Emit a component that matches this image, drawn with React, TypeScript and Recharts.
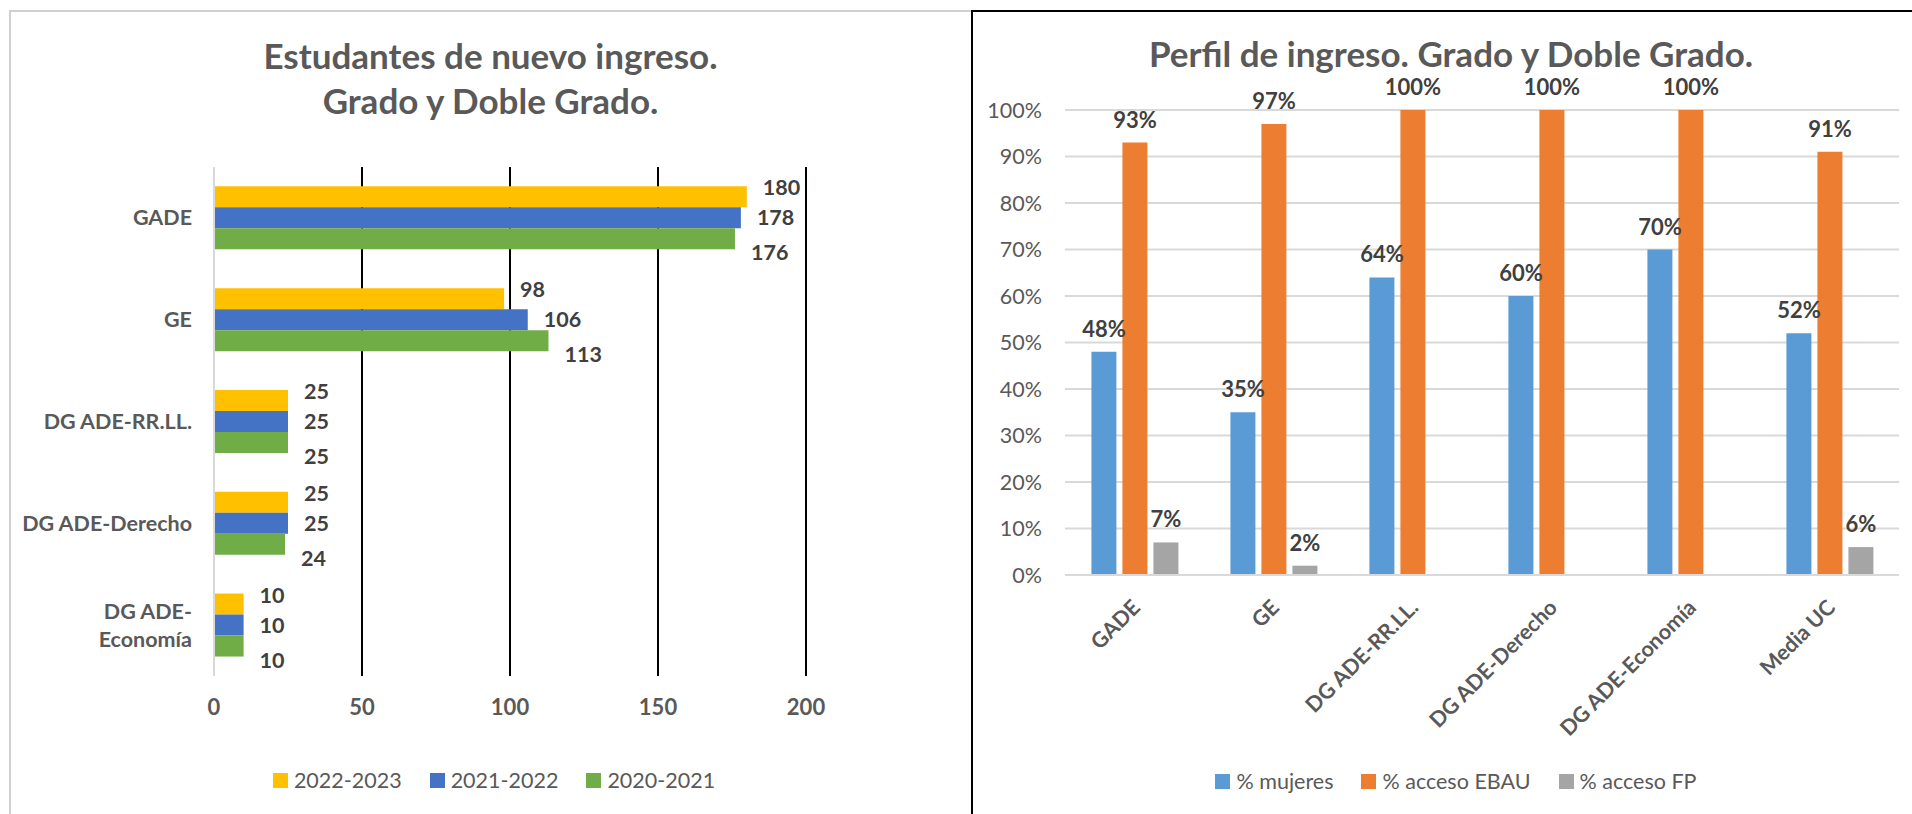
import React from 'react';
import { BarChart, Bar, XAxis, YAxis, CartesianGrid, LabelList } from 'recharts';

const FONT = 'Lato, "Open Sans", "DejaVu Sans", sans-serif';

// ---- Left chart data ----
const enrolCategories = ['GADE', 'GE', 'DG ADE-RR.LL.', 'DG ADE-Derecho', 'DG ADE-Economía'];
const enrol2022_2023 = [180, 98, 25, 25, 10];
const enrol2021_2022 = [178, 106, 25, 25, 10];
const enrol2020_2021 = [176, 113, 25, 24, 10];
const enrolSeriesNames = ['2022-2023', '2021-2022', '2020-2021'];
const enrolTicks = [0, 50, 100, 150, 200];
const enrolTitle = ['Estudantes de nuevo ingreso.', 'Grado y Doble Grado.'];

// ---- Right chart data ----
const profileCategories = ['GADE', 'GE', 'DG ADE-RR.LL.', 'DG ADE-Derecho', 'DG ADE-Economía', 'Media UC'];
const profileMujeres = [0.48, 0.35, 0.64, 0.6, 0.7, 0.52];
const profileEbau = [0.93, 0.97, 1, 1, 1, 0.91];
const profileFp = [0.07, 0.02, 0, 0, 0, 0.06];
const profileSeriesNames = ['% mujeres', '% acceso EBAU', '% acceso FP'];
const profileTicks = [0, 0.1, 0.2, 0.3, 0.4, 0.5, 0.6, 0.7, 0.8, 0.9, 1];
const profileTitle = 'Perfil de ingreso. Grado y Doble Grado.';

const enrolColors = ['#FFC000', '#4472C4', '#70AD47'];
const enrolLabelShift = [-9, 0, 14];
const profileColors = ['#5B9BD5', '#ED7D31', '#A5A5A5'];

const enrolData = enrolCategories.map((c, i) => ({
  category: c,
  a: enrol2022_2023[i],
  b: enrol2021_2022[i],
  c: enrol2020_2021[i],
}));

const profileData = profileCategories.map((c, i) => ({
  category: c,
  mujeres: profileMujeres[i],
  ebau: profileEbau[i],
  fp: profileFp[i],
}));

const pct = (v: any) => `${Math.round(Number(v) * 100)}%`;

const EnrolTick = (props: any) => {
  const { x, y, payload } = props;
  const v: string = String(payload.value);
  let lines = [v];
  if (v.length > 14) {
    const idx = v.indexOf('-');
    lines = [v.slice(0, idx + 1), v.slice(idx + 1)];
  }
  const lh = 28;
  const start = -((lines.length - 1) * lh) / 2;
  return (
    <text
      x={x}
      y={y}
      textAnchor="end"
      fill="#595959"
      fontSize={21.5}
      fontWeight={700}
      fontFamily={FONT}
    >
      {lines.map((l, i) => (
        <tspan key={i} x={x} dy={i === 0 ? start + 7.5 : lh}>
          {l}
        </tspan>
      ))}
    </text>
  );
};

const ProfileTick = (props: any) => {
  const { x, y, payload } = props;
  return (
    <g transform={`translate(${x + 7},${y + 26})`}>
      <text
        x={0}
        y={0}
        textAnchor="end"
        transform="rotate(-45)"
        fill="#595959"
        fontSize={21.5}
        fontWeight={700}
        fontFamily={FONT}
      >
        {payload.value}
      </text>
    </g>
  );
};

const HtmlLegend = ({ names, colors, center, top }: any) => (
  <div
    style={{
      position: 'absolute',
      top,
      left: center - 400,
      width: 800,
      display: 'flex',
      justifyContent: 'center',
      gap: 28,
      fontFamily: FONT,
      fontSize: 21.5,
      color: '#595959',
      lineHeight: '26px',
    }}
  >
    {names.map((n: string, i: number) => (
      <div key={n} style={{ display: 'flex', alignItems: 'center' }}>
        <span
          style={{ display: 'inline-block', width: 15, height: 15, background: colors[i], marginRight: 6 }}
        />
        <span>{n}</span>
      </div>
    ))}
  </div>
);

const labelStyle = { fill: '#404040', fontWeight: 700, fontFamily: FONT };

export default function App() {
  return (
    <div
      style={{
        position: 'fixed',
        left: 0,
        top: 0,
        width: 1912,
        height: 814,
        overflow: 'hidden',
        background: '#fff',
        fontFamily: FONT,
      }}
    >
      {/* panel borders */}
      <div
        style={{
          position: 'absolute',
          left: 9,
          top: 10,
          width: 970,
          height: 820,
          borderTop: '2px solid #D0D0D0',
          borderLeft: '2px solid #D0D0D0',
        }}
      />
      <div
        style={{
          position: 'absolute',
          left: 971,
          top: 10,
          width: 960,
          height: 820,
          borderTop: '2px solid #000',
          borderLeft: '2px solid #000',
        }}
      />

      {/* Left title */}
      <div
        style={{
          position: 'absolute',
          left: 9,
          top: 33,
          width: 963,
          textAlign: 'center',
          fontSize: 35,
          fontWeight: 700,
          lineHeight: '45px',
          color: '#595959',
        }}
      >
        {enrolTitle.map((t) => (
          <div key={t}>{t}</div>
        ))}
      </div>

      {/* Right title */}
      <div
        style={{
          position: 'absolute',
          left: 951,
          top: 31,
          width: 1000,
          textAlign: 'center',
          fontSize: 35,
          fontWeight: 700,
          lineHeight: '45px',
          color: '#595959',
        }}
      >
        {profileTitle}
      </div>

      {/* Left chart */}
      <div style={{ position: 'absolute', left: 0, top: 0 }}>
        <BarChart
          width={972}
          height={814}
          data={enrolData}
          layout="vertical"
          margin={{ top: 167, right: 166, bottom: 98, left: 10 }}
          barCategoryGap="19%"
          barGap={0}
        >
          <CartesianGrid horizontal={false} vertical stroke="#000" strokeWidth={2} />
          <XAxis
            type="number"
            domain={[0, 200]}
            ticks={enrolTicks}
            axisLine={false}
            tickLine={false}
            height={40}
            tickMargin={17}
            tick={{ fill: '#595959', fontSize: 22, fontWeight: 700, fontFamily: FONT }}
          />
          <YAxis
            type="category"
            dataKey="category"
            width={204}
            axisLine={{ stroke: '#D9D9D9', strokeWidth: 2 }}
            tickLine={false}
            tickMargin={16}
            tick={<EnrolTick />}
          />
          {(['a', 'b', 'c'] as const).map((k, i) => (
            <Bar key={k} dataKey={k} name={enrolSeriesNames[i]} fill={enrolColors[i]} isAnimationActive={false}>
              <LabelList
                dataKey={k}
                position="right"
                offset={16}
                dy={enrolLabelShift[i]}
                fontSize={21.5}
                {...labelStyle}
              />
            </Bar>
          ))}
        </BarChart>
      </div>

      {/* Right chart */}
      <div style={{ position: 'absolute', left: 972, top: 0 }}>
        <BarChart
          width={940}
          height={814}
          data={profileData}
          margin={{ top: 110, right: 13, bottom: 89, left: 0 }}
          barCategoryGap="19%"
          barGap={6}
        >
          <CartesianGrid vertical={false} stroke="#D9D9D9" strokeWidth={2} />
          <XAxis
            dataKey="category"
            height={150}
            interval={0}
            axisLine={{ stroke: '#D9D9D9', strokeWidth: 2 }}
            tickLine={false}
            tick={<ProfileTick />}
          />
          <YAxis
            domain={[0, 1]}
            ticks={profileTicks}
            width={93}
            tickFormatter={pct}
            axisLine={false}
            tickLine={false}
            tickMargin={17}
            tick={{ fill: '#595959', fontSize: 21.5, fontFamily: FONT }}
          />
          {(['mujeres', 'ebau', 'fp'] as const).map((k, i) => (
            <Bar key={k} dataKey={k} name={profileSeriesNames[i]} fill={profileColors[i]} isAnimationActive={false}>
              <LabelList dataKey={k} position="top" offset={15} formatter={pct} fontSize={22} {...labelStyle} />
            </Bar>
          ))}
        </BarChart>
      </div>

      <HtmlLegend names={enrolSeriesNames} colors={enrolColors} center={494} top={767} />
      <HtmlLegend names={profileSeriesNames} colors={profileColors} center={1456} top={768} />
    </div>
  );
}
